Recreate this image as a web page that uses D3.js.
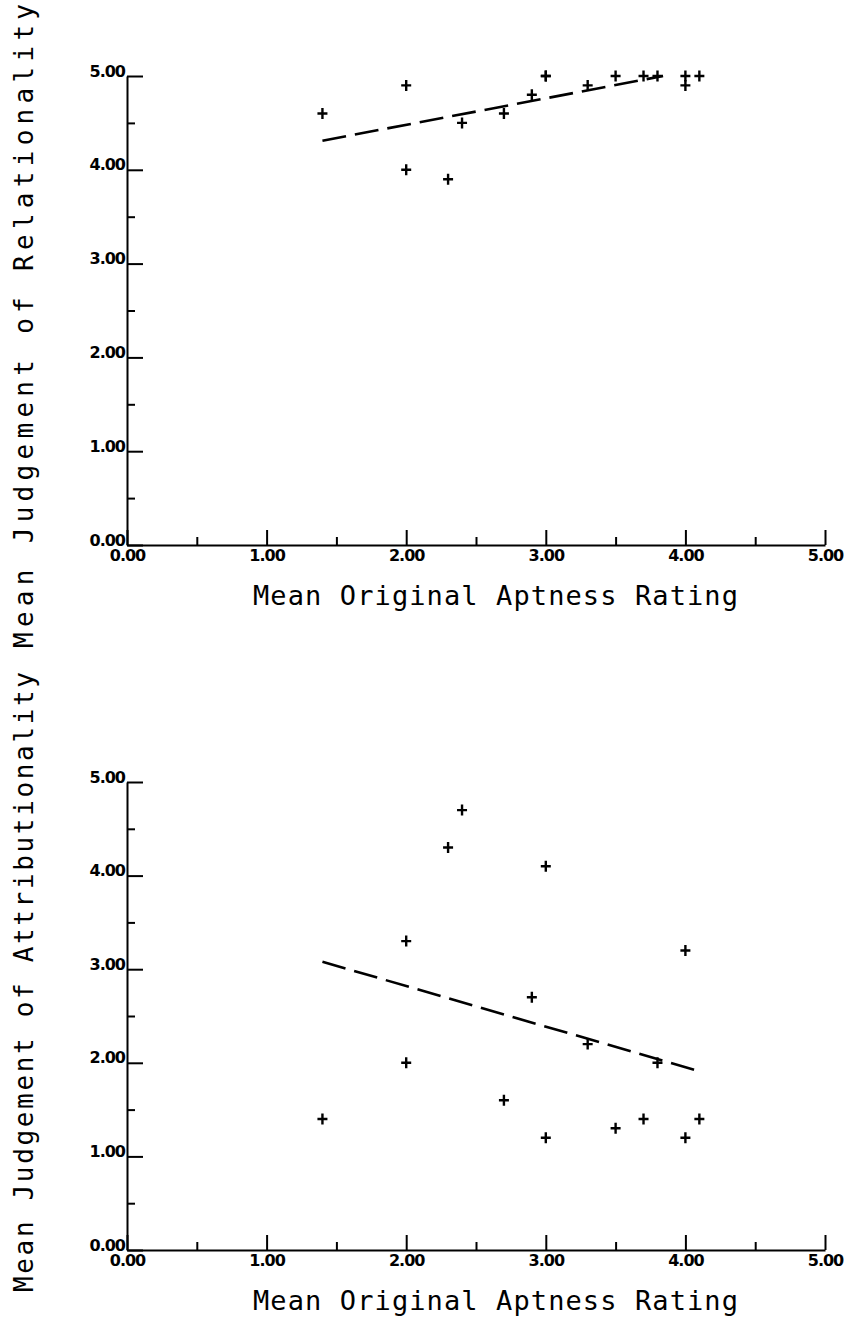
<!DOCTYPE html>
<html>
<head>
<meta charset="utf-8">
<script src="https://cdn.jsdelivr.net/npm/d3@7"></script>
<style>
  body { margin: 0; background: #fff; }
</style>
</head>
<body>
<div id="wrapper"></div>
<script>
// mean original aptness rating (x), shared by both panels
const aptness = [1.4, 2.0, 2.0, 2.3, 2.4, 2.7, 2.9, 3.0, 3.0, 3.3, 3.5, 3.7, 3.8, 4.0, 4.0, 4.1];
const relationality = [4.6, 4.9, 4.0, 3.9, 4.5, 4.6, 4.8, 5.0, 5.0, 4.9, 5.0, 5.0, 5.0, 5.0, 4.9, 5.0];
const attributionality = [1.4, 3.3, 2.0, 4.3, 4.7, 1.6, 2.7, 4.1, 1.2, 2.2, 1.3, 1.4, 2.0, 3.2, 1.2, 1.4];

// fitted lines (end points)
const relFitX = [1.4, 3.84];
const relFitY = [4.31, 5.0];
const attrFitX = [1.4, 4.1];
const attrFitY = [3.08, 1.91];

const majorTicks = [0, 1, 2, 3, 4, 5];
const minorTicks = [0.5, 1.5, 2.5, 3.5, 4.5];

const xLabel = "Mean Original Aptness Rating";

const width = 856;
const height = 1317;

const wrapper = d3.select("#wrapper")
    .append("svg")
    .attr("width", width)
    .attr("height", height)

const xScale = d3.scaleLinear()
    .domain([0, 5])
    .range([127, 825])

const fmt = d3.format(".2f")

function drawPanel(yValues, fitX, fitY, yLabel, yRange, yLabelSpan) {
    const yScale = d3.scaleLinear()
        .domain([0, 5])
        .range(yRange)

    const g = wrapper.append("g")

    // x axis, ticks pointing up into the plot
    g.append("g")
        .attr("transform", `translate(0,${yRange[0]})`)
        .call(d3.axisBottom(xScale).tickValues(majorTicks).tickSize(-15).tickSizeOuter(0).tickPadding(5).tickFormat(fmt))
    g.append("g")
        .attr("transform", `translate(0,${yRange[0]})`)
        .call(d3.axisBottom(xScale).tickValues(minorTicks).tickSize(-8).tickSizeOuter(0).tickFormat(""))
        .select(".domain").remove()

    // y axis, ticks pointing right
    const yAxis = g.append("g")
        .attr("transform", `translate(${xScale(0)},0)`)
        .call(d3.axisLeft(yScale).tickValues(majorTicks).tickSize(-16).tickSizeOuter(0).tickPadding(2).tickFormat(fmt))
    g.append("g")
        .attr("transform", `translate(${xScale(0)},0)`)
        .call(d3.axisLeft(yScale).tickValues(minorTicks).tickSize(-8).tickSizeOuter(0).tickFormat(""))
        .select(".domain").remove()

    yAxis.selectAll("text").attr("dy", "0")

    g.selectAll(".domain, .tick line")
        .attr("stroke", "#000")
        .attr("stroke-width", 2)

    g.selectAll(".tick text")
        .attr("fill", "#000")
        .style("font-family", "'DejaVu Sans', sans-serif")
        .style("font-weight", "bold")
        .style("font-size", "16px")
        .style("letter-spacing", "-1px")

    // regression line
    const fit = fitX.map((x, i) => [x, fitY[i]])
    g.append("path")
        .datum(fit)
        .attr("d", d3.line().x(d => xScale(d[0])).y(d => yScale(d[1])))
        .attr("fill", "none")
        .attr("stroke", "#000")
        .attr("stroke-width", 2.6)
        .attr("stroke-dasharray", "24 9")

    // plus markers
    g.append("g")
        .selectAll("path")
        .data(aptness.map((x, i) => [x, yValues[i]]))
        .join("path")
        .attr("transform", d => `translate(${xScale(d[0])},${yScale(d[1])})`)
        .attr("d", "M-5,0H5M0,-5.5V5.5")
        .attr("stroke", "#000")
        .attr("stroke-width", 2.4)

    // axis titles
    g.append("text")
        .attr("x", 253)
        .attr("y", yRange[0] + 60)
        .attr("textLength", 485)
        .attr("lengthAdjust", "spacing")
        .style("font-family", "'DejaVu Sans Mono', monospace")
        .style("font-size", "27px")
        .text(xLabel)

    g.append("text")
        .attr("transform", `translate(33,${yLabelSpan[0]}) rotate(-90)`)
        .attr("textLength", yLabelSpan[0] - yLabelSpan[1])
        .attr("lengthAdjust", "spacing")
        .style("font-family", "'DejaVu Sans Mono', monospace")
        .style("font-size", "26px")
        .text(yLabel)
}

drawPanel(relationality, relFitX, relFitY, "Mean Judgement of Relationality", [545, 76], [648, 4])
drawPanel(attributionality, attrFitX, attrFitY, "Mean Judgement of Attributionality", [1250, 782], [1292, 672])
</script>
</body>
</html>
